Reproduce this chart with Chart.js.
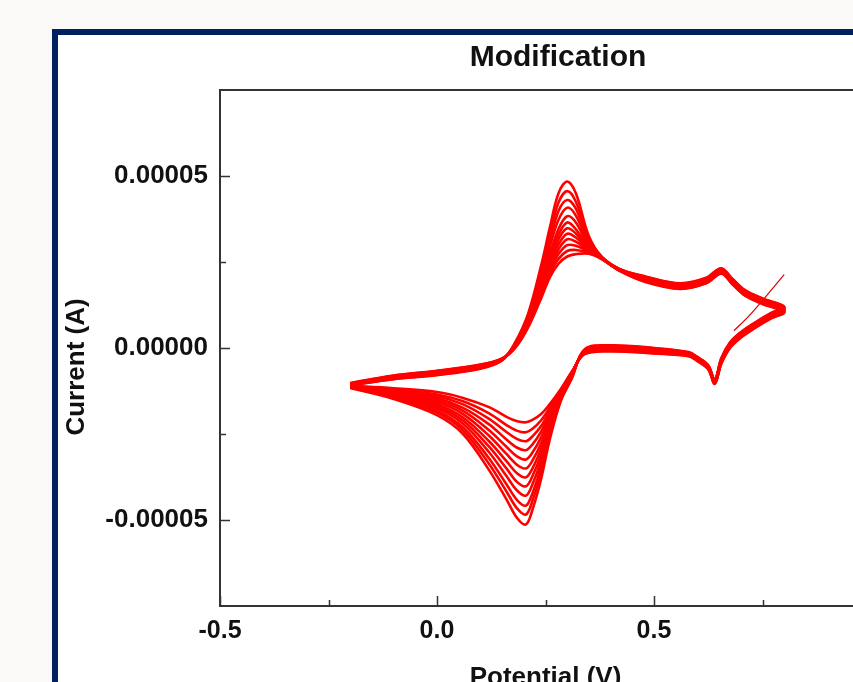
<!DOCTYPE html>
<html>
<head>
<meta charset="utf-8">
<script src="https://cdn.jsdelivr.net/npm/chart.js@4.4.0/dist/chart.umd.min.js"></script>
<style>
  html, body { margin: 0; padding: 0; width: 853px; height: 682px; overflow: hidden; background: #fbf9f8; }
  #panel { position: absolute; left: 52px; top: 29px; width: 900px; height: 700px; border: 6px solid #002060; background: #fff; }
  #cv { position: absolute; left: 0; top: 0; }
</style>
</head>
<body>
<div id="panel"></div>
<canvas id="cv" width="1000" height="682"></canvas>
<script>
// potential sweep of one cycle (V): -0.2 -> 0.8 -> -0.2
const potential = [
  -0.2, -0.1, 0.0, 0.1, 0.15, 0.18, 0.21, 0.24, 0.26, 0.28, 0.30, 0.32, 0.35, 0.38, 0.42, 0.48, 0.56, 0.62, 0.655, 0.68, 0.71, 0.75, 0.80,
  0.77, 0.73, 0.70, 0.675, 0.655, 0.64, 0.625, 0.60, 0.58, 0.50, 0.40, 0.34, 0.31, 0.285, 0.26, 0.24, 0.22, 0.205, 0.185, 0.16, 0.12, 0.06, 0.0, -0.1, -0.2
];

// current per cycle, in microampere
const cycle1 = [-10.2, -8.0, -6.6, -4.8, -3.0, 0.0, 6.0, 14.5, 20.5, 24.5, 26.6, 27.3, 27.4, 25.8, 22.5, 19.2, 17.2, 18.8, 21.6, 18.6, 15.2, 12.8, 10.4,
  8.6, 5.6, 3.0, 0.0, -4.6, -10.4, -6.2, -3.8, -2.4, -1.6, -1.0, -1.8, -7.0, -12.0, -16.3, -19.2, -20.9, -21.6, -21.3, -20.0, -17.2, -14.5, -12.8, -11.7, -11.0];
const cycle2 = [-10.3, -8.1, -6.7, -4.9, -3.1, 0.1, 6.3, 15.1, 21.5, 25.9, 28.2, 28.5, 27.7, 25.9, 22.5, 19.3, 17.3, 18.9, 21.7, 18.7, 15.3, 12.9, 10.5,
  8.7, 5.7, 3.1, 0.1, -4.5, -10.3, -6.1, -3.7, -2.3, -1.5, -0.8, -1.7, -7.2, -12.3, -17.3, -21.0, -23.5, -24.5, -24.1, -22.4, -19.0, -15.5, -13.5, -12.0, -11.1];
const cycle3 = [-10.3, -8.2, -6.8, -5.0, -3.1, 0.2, 6.5, 15.7, 22.4, 27.3, 29.9, 29.7, 28.0, 25.9, 22.6, 19.5, 17.5, 19.1, 21.9, 18.9, 15.5, 13.1, 10.7,
  8.9, 5.9, 3.3, 0.3, -4.3, -10.2, -6.0, -3.6, -2.2, -1.3, -0.7, -1.5, -7.4, -12.6, -18.2, -22.7, -25.7, -27.1, -26.5, -24.4, -20.6, -16.4, -14.0, -12.3, -11.1];
const cycle4 = [-10.4, -8.3, -7.0, -5.1, -3.2, 0.3, 6.8, 16.3, 23.4, 28.7, 31.6, 30.9, 28.2, 26.0, 22.6, 19.6, 17.6, 19.2, 22.0, 19.0, 15.6, 13.2, 10.8,
  9.0, 6.0, 3.4, 0.4, -4.2, -10.1, -5.9, -3.5, -2.1, -1.2, -0.5, -1.4, -7.5, -13.0, -19.1, -24.3, -28.0, -29.7, -29.0, -26.6, -22.2, -17.4, -14.6, -12.6, -11.2];
const cycle5 = [-10.5, -8.4, -7.1, -5.2, -3.2, 0.5, 7.1, 16.9, 24.3, 30.1, 33.2, 32.1, 28.5, 26.0, 22.7, 19.8, 17.8, 19.4, 22.2, 19.2, 15.8, 13.4, 11.0,
  9.2, 6.2, 3.6, 0.6, -4.0, -10.0, -5.8, -3.4, -2.0, -1.0, -0.3, -1.3, -7.7, -13.3, -20.0, -26.0, -30.4, -32.4, -31.6, -28.7, -23.9, -18.3, -15.2, -12.8, -11.2];
const cycle6 = [-10.5, -8.5, -7.2, -5.4, -3.3, 0.6, 7.3, 17.6, 25.3, 31.6, 34.8, 33.3, 28.8, 26.1, 22.7, 19.9, 17.9, 19.5, 22.3, 19.3, 15.9, 13.5, 11.1,
  9.3, 6.3, 3.7, 0.7, -3.9, -9.9, -5.7, -3.3, -1.9, -0.9, -0.2, -1.2, -7.9, -13.6, -20.9, -27.7, -32.7, -35.0, -34.0, -30.8, -25.5, -19.2, -15.8, -13.1, -11.3];
const cycle7 = [-10.6, -8.6, -7.3, -5.5, -3.3, 0.7, 7.6, 18.2, 26.2, 33.0, 36.5, 34.5, 29.1, 26.1, 22.7, 20.1, 18.1, 19.7, 22.5, 19.5, 16.1, 13.7, 11.3,
  9.5, 6.5, 3.9, 0.9, -3.7, -9.7, -5.5, -3.1, -1.7, -0.7, 0.0, -1.0, -8.1, -13.9, -21.8, -29.3, -35.0, -37.6, -36.5, -32.9, -27.1, -20.2, -16.4, -13.4, -11.3];
const cycle8 = [-10.6, -8.7, -7.4, -5.6, -3.4, 0.8, 7.9, 18.8, 27.3, 34.6, 38.3, 36.5, 29.6, 26.2, 22.8, 20.2, 18.2, 19.8, 22.6, 19.6, 16.2, 13.8, 11.4,
  9.6, 6.6, 4.0, 1.0, -3.6, -9.6, -5.4, -3.0, -1.6, -0.6, 0.1, -0.9, -8.3, -14.2, -22.7, -31.0, -37.2, -40.2, -39.0, -35.0, -28.7, -21.1, -17.0, -13.6, -11.4];
const cycle9 = [-10.7, -8.8, -7.6, -5.7, -3.4, 1.0, 8.4, 20.0, 29.5, 37.3, 40.8, 38.5, 30.3, 26.3, 22.9, 20.4, 18.4, 20.0, 22.8, 19.8, 16.4, 14.0, 11.6,
  9.8, 6.8, 4.2, 1.2, -3.4, -9.5, -5.3, -2.9, -1.5, -0.4, 0.3, -0.8, -8.4, -14.5, -23.6, -32.7, -39.6, -42.9, -41.5, -37.2, -30.3, -22.0, -17.6, -13.9, -11.4];
const cycle10 = [-10.8, -8.9, -7.7, -5.8, -3.5, 1.1, 8.8, 21.0, 31.0, 39.8, 43.0, 40.5, 30.8, 26.3, 22.9, 20.5, 18.5, 20.1, 22.9, 19.9, 16.5, 14.1, 11.7,
  9.9, 6.9, 4.3, 1.3, -3.3, -9.4, -5.2, -2.8, -1.4, -0.3, 0.5, -0.7, -8.6, -14.9, -24.6, -34.5, -42.2, -45.8, -44.3, -39.6, -32.1, -23.1, -18.3, -14.2, -11.5];
const cycle11 = [-10.8, -9.0, -7.8, -5.9, -3.5, 1.3, 9.3, 22.5, 33.0, 42.3, 45.6, 42.5, 31.5, 26.4, 23.0, 20.7, 18.7, 20.3, 23.1, 20.1, 16.7, 14.3, 11.9,
  10.1, 7.1, 4.5, 1.5, -3.1, -9.3, -5.1, -2.7, -1.3, -0.1, 0.6, -0.5, -8.8, -15.2, -25.5, -36.2, -44.4, -48.4, -46.7, -41.7, -33.7, -24.0, -18.8, -14.5, -11.5];
const cycle12 = [-10.9, -9.1, -7.9, -6.0, -3.6, 1.6, 10.0, 24.0, 35.0, 45.0, 48.4, 45.0, 32.5, 26.5, 23.0, 20.8, 18.8, 20.4, 23.2, 20.2, 16.8, 14.4, 12.0,
  10.2, 7.2, 4.6, 1.6, -3.0, -9.2, -5.0, -2.6, -1.2, 0.0, 0.8, -0.4, -9.0, -15.5, -26.5, -38.0, -47.0, -51.3, -49.5, -44.0, -35.5, -25.0, -19.5, -14.8, -11.6];

// short single sweep at the anodic end
const tailPotential = [0.684, 0.72, 0.76, 0.80];
const tailCurrent = [5.0, 9.5, 15.3, 21.3];

const xTicks = [-0.5, 0.0, 0.5, 1.0];
const xMinor = [-0.25, 0.25, 0.75];
const yTicks = [-0.00005, 0.0, 0.00005];
const yMinor = [-0.000025, 0.000025];

const cycles = [cycle1, cycle2, cycle3, cycle4, cycle5, cycle6, cycle7, cycle8, cycle9, cycle10, cycle11, cycle12];
const toPoints = (xs, ys) => xs.map((e, i) => ({ x: e, y: ys[i] * 1e-6 }));

const datasets = cycles.map((c, i) => ({
  label: 'cycle ' + (i + 1),
  data: toPoints(potential, c),
  borderColor: '#ff0000',
  borderWidth: 2.6,
  pointRadius: 0,
  tension: 0.35,
  fill: false
}));
datasets.push({
  label: 'tail',
  data: toPoints(tailPotential, tailCurrent),
  borderColor: '#e00000',
  borderWidth: 1.2,
  pointRadius: 0,
  tension: 0.3,
  fill: false
});

const FONT = '"Liberation Sans", Arial, sans-serif';
const ink = '#111';

// frame, inward ticks and titles
const framePlugin = {
  id: 'frame',
  afterDraw(chart) {
    const { ctx, chartArea: a, scales: { x, y } } = chart;
    ctx.save();
    ctx.strokeStyle = '#333';
    ctx.lineWidth = 2;
    ctx.strokeRect(a.left, a.top, a.right - a.left, a.bottom - a.top);

    ctx.lineWidth = 1.5;
    const tick = (x1, y1, x2, y2) => { ctx.beginPath(); ctx.moveTo(x1, y1); ctx.lineTo(x2, y2); ctx.stroke(); };
    xTicks.forEach(v => { const p = Math.round(x.getPixelForValue(v)) + 0.5; tick(p, a.bottom, p, a.bottom - 10); });
    xMinor.forEach(v => { const p = Math.round(x.getPixelForValue(v)) + 0.5; tick(p, a.bottom, p, a.bottom - 6); });
    yTicks.forEach(v => { const p = Math.round(y.getPixelForValue(v)) + 0.5; tick(a.left, p, a.left + 10, p); });
    yMinor.forEach(v => { const p = Math.round(y.getPixelForValue(v)) + 0.5; tick(a.left, p, a.left + 6, p); });

    ctx.fillStyle = ink;
    ctx.textAlign = 'center';
    ctx.textBaseline = 'alphabetic';
    ctx.font = 'bold 30px ' + FONT;
    ctx.fillText('Modification', 558, 66);

    ctx.font = 'bold 26px ' + FONT;
    ctx.fillText('Potential (V)', (a.left + a.right) / 2, 685);

    ctx.translate(84, 367);
    ctx.rotate(-Math.PI / 2);
    ctx.fillText('Current (A)', 0, 0);
    ctx.restore();
  }
};

new Chart(document.getElementById('cv'), {
  type: 'line',
  data: { datasets },
  options: {
    responsive: false,
    animation: false,
    devicePixelRatio: 1,
    layout: { padding: { left: 0, top: 90, right: 129, bottom: 0 } },
    plugins: { legend: { display: false }, tooltip: { enabled: false }, title: { display: false } },
    scales: {
      x: {
        type: 'linear',
        min: -0.5,
        max: 1.0,
        grid: { display: false, drawTicks: false },
        border: { display: false },
        afterBuildTicks: s => { s.ticks = xTicks.map(v => ({ value: v })); },
        afterFit: s => { s.height = 76; },
        ticks: {
          padding: 10,
          autoSkip: false,
          maxRotation: 0,
          color: ink,
          font: { family: FONT, size: 25, weight: 'bold' },
          callback: v => v.toFixed(1)
        }
      },
      y: {
        type: 'linear',
        min: -0.000075,
        max: 0.000075,
        grid: { display: false, drawTicks: false },
        border: { display: false },
        afterBuildTicks: s => { s.ticks = yTicks.map(v => ({ value: v })); },
        afterFit: s => { s.width = 220; },
        ticks: {
          padding: 12,
          autoSkip: false,
          color: ink,
          font: { family: FONT, size: 26, weight: 'bold' },
          callback: v => v.toFixed(5)
        }
      }
    }
  },
  plugins: [framePlugin]
});
</script>
</body>
</html>
